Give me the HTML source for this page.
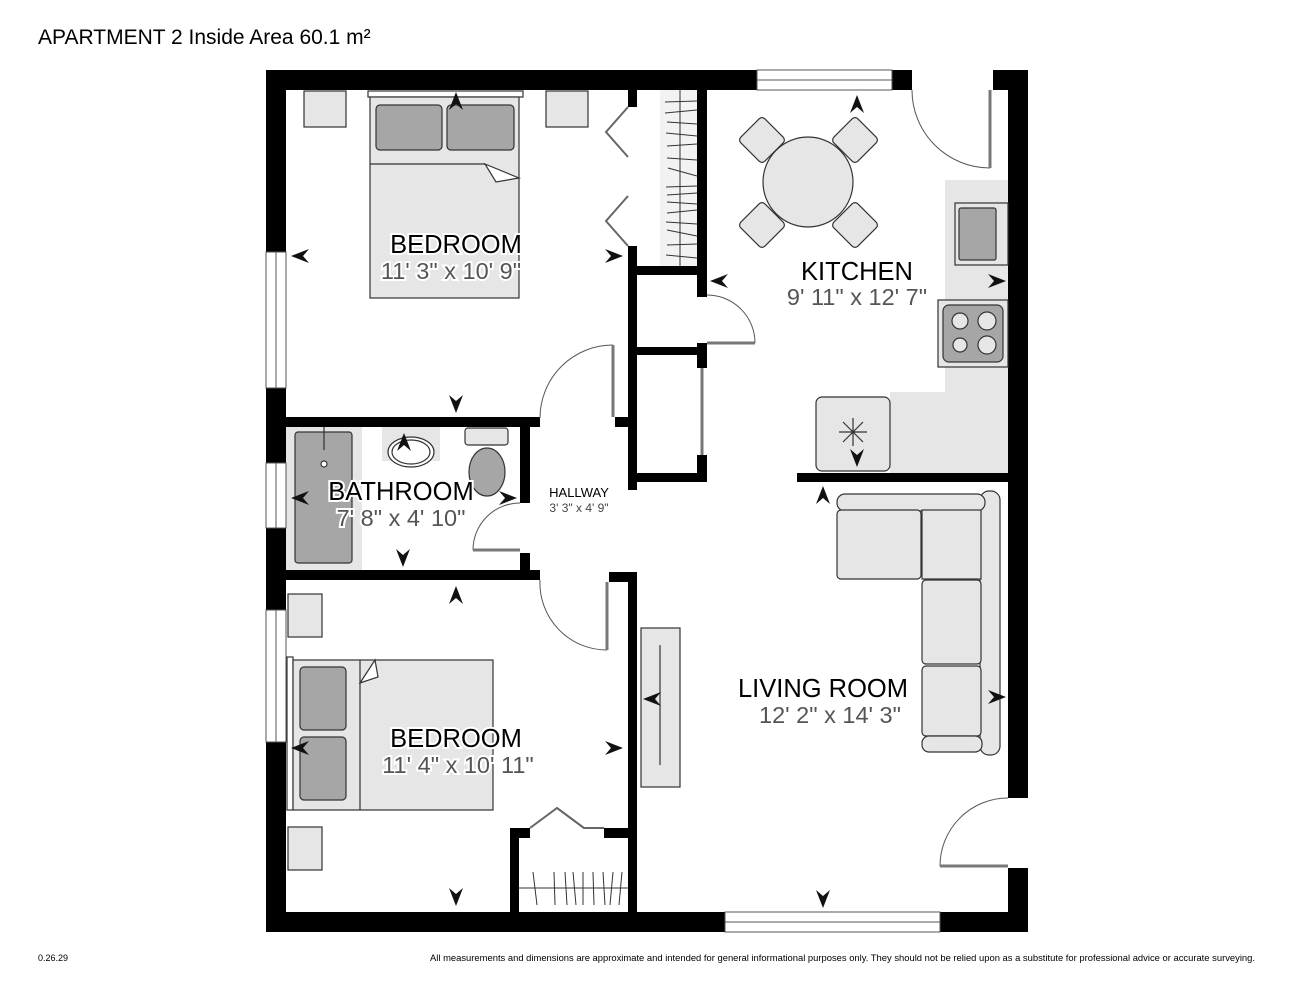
<!DOCTYPE html>
<html><head><meta charset="utf-8"><style>
html,body{margin:0;padding:0;background:#fff;}
svg{display:block;}
.t{font-family:"Liberation Sans",sans-serif;}
.nm{font-family:"Liberation Sans",sans-serif;font-size:25.5px;fill:#000;text-anchor:middle;paint-order:stroke;stroke:#fff;stroke-width:4px;}
.dm{font-family:"Liberation Sans",sans-serif;font-size:23.5px;fill:#555;text-anchor:middle;paint-order:stroke;stroke:#fff;stroke-width:4px;}
</style></head><body>
<svg width="1294" height="1000" viewBox="0 0 1294 1000" xmlns="http://www.w3.org/2000/svg">
<rect width="1294" height="1000" fill="#fff"/>
<text x="38" y="44" class="t" font-size="21">APARTMENT 2 Inside Area 60.1 m²</text>
<text x="38" y="961" class="t" font-size="9">0.26.29</text>
<text x="430" y="961" class="t" font-size="9" textLength="825" lengthAdjust="spacingAndGlyphs">All measurements and dimensions are approximate and intended for general informational purposes only. They should not be relied upon as a substitute for professional advice or accurate surveying.</text>

<path d="M945 180 H1008 V473 H890 V392 H945 Z" fill="#e6e6e6"/>
<rect x="286" y="427" width="76" height="143" fill="#e6e6e6"/>
<rect x="382" y="427" width="58" height="34" fill="#e6e6e6"/>
<rect x="660" y="90" width="37" height="176" fill="#f2f2f2"/>

<g fill="#000">
<rect x="266" y="70" width="491" height="20"/>
<rect x="892" y="70" width="20" height="20"/>
<rect x="993" y="70" width="35" height="20"/>
<rect x="266" y="70" width="20" height="182"/>
<rect x="266" y="388" width="20" height="75"/>
<rect x="266" y="528" width="20" height="82"/>
<rect x="266" y="742" width="20" height="190"/>
<rect x="1008" y="70" width="20" height="728"/>
<rect x="1008" y="868" width="20" height="64"/>
<rect x="266" y="912" width="459" height="20"/>
<rect x="940" y="912" width="88" height="20"/>
<rect x="628" y="90" width="9" height="17"/>
<rect x="628" y="246" width="9" height="244"/>
<rect x="697" y="90" width="10" height="207"/>
<rect x="697" y="343" width="10" height="25"/>
<rect x="697" y="455" width="10" height="27"/>
<rect x="632" y="266" width="75" height="9"/>
<rect x="632" y="347" width="75" height="8"/>
<rect x="632" y="473" width="75" height="9"/>
<rect x="797" y="473" width="211" height="9"/>
<rect x="286" y="417" width="254" height="10"/>
<rect x="615" y="417" width="22" height="10"/>
<rect x="520" y="427" width="10" height="76"/>
<rect x="520" y="553" width="10" height="25"/>
<rect x="286" y="570" width="254" height="10"/>
<rect x="609" y="572" width="28" height="10"/>
<rect x="628" y="572" width="9" height="340"/>
<rect x="510" y="828" width="20" height="10"/>
<rect x="604" y="828" width="30" height="10"/>
<rect x="510" y="828" width="9" height="84"/>
</g>

<g fill="#fff" stroke="#555" stroke-width="1">
<rect x="757" y="70" width="135" height="20"/><line x1="757" y1="80" x2="892" y2="80"/>
<rect x="725" y="912" width="215" height="20"/><line x1="725" y1="922" x2="940" y2="922"/>
<rect x="266" y="252" width="20" height="136"/><line x1="276" y1="252" x2="276" y2="388"/>
<rect x="266" y="463" width="20" height="65"/><line x1="276" y1="463" x2="276" y2="528"/>
<rect x="266" y="610" width="20" height="132"/><line x1="276" y1="610" x2="276" y2="742"/>
</g>

<g fill="none" stroke="#555" stroke-width="1">
<path d="M613 345 A73 73 0 0 0 540 418"/>
<path d="M707 295 A48 48 0 0 1 755 343"/>
<path d="M912 90 A78 78 0 0 0 990 168"/>
<path d="M520 503 A47 47 0 0 0 473 550"/>
<path d="M540 580 A67 67 0 0 0 607 650"/>
<path d="M1008 798 A68 68 0 0 0 940 866"/>
</g>
<g stroke="#777" stroke-width="3" fill="none">
<line x1="613" y1="345" x2="613" y2="417"/>
<line x1="707" y1="343" x2="755" y2="343"/>
<line x1="990" y1="90" x2="990" y2="168"/>
<line x1="473" y1="550" x2="520" y2="550"/>
<line x1="607" y1="582" x2="607" y2="650"/>
<line x1="940" y1="866" x2="1008" y2="866"/>
<line x1="702" y1="368" x2="702" y2="455"/>
</g>
<g stroke="#666" stroke-width="2" fill="none">
<polyline points="628,107 606,132 628,157"/>
<polyline points="628,196 606,221 628,246"/>
<polyline points="530,828 557,808 584,828"/>
<polyline points="557,808 584,828 604,828"/>
</g>
<g stroke="#333" stroke-width="1">
<line x1="680" y1="90" x2="680" y2="266"/>
<line x1="665" y1="102" x2="697" y2="101"/><line x1="665" y1="113" x2="697" y2="110"/>
<line x1="667" y1="122" x2="697" y2="124"/><line x1="666" y1="133" x2="697" y2="136"/>
<line x1="667" y1="146" x2="697" y2="144"/><line x1="667" y1="158" x2="697" y2="160"/>
<line x1="668" y1="168" x2="697" y2="176"/><line x1="666" y1="187" x2="697" y2="186"/>
<line x1="667" y1="195" x2="697" y2="193"/><line x1="667" y1="202" x2="697" y2="204"/>
<line x1="667" y1="213" x2="697" y2="210"/><line x1="666" y1="222" x2="697" y2="224"/>
<line x1="667" y1="230" x2="697" y2="236"/><line x1="667" y1="245" x2="697" y2="244"/>
<line x1="666" y1="255" x2="697" y2="258"/>
<line x1="519" y1="888" x2="628" y2="888"/>
<line x1="533" y1="872" x2="537" y2="905"/><line x1="554" y1="872" x2="555" y2="905"/>
<line x1="565" y1="872" x2="567" y2="905"/><line x1="573" y1="872" x2="576" y2="905"/>
<line x1="583" y1="872" x2="583" y2="905"/><line x1="593" y1="872" x2="594" y2="905"/>
<line x1="603" y1="872" x2="605" y2="905"/><line x1="613" y1="872" x2="610" y2="905"/>
<line x1="622" y1="872" x2="619" y2="905"/>
</g>

<g stroke="#333" stroke-width="1.2">
<rect x="304" y="91" width="42" height="36" fill="#e6e6e6"/>
<rect x="546" y="91" width="42" height="36" fill="#e6e6e6"/>
<rect x="368" y="91" width="155" height="6" fill="#fff"/>
<rect x="370" y="97" width="149" height="201" fill="#e6e6e6"/>
<rect x="376" y="105" width="66" height="45" rx="4" fill="#a6a6a6"/>
<rect x="447" y="105" width="67" height="45" rx="4" fill="#a6a6a6"/>
<line x1="370" y1="164" x2="485" y2="164"/>
<polygon points="485,164 519,178 496,182" fill="#fff"/>
</g>
<g stroke="#333" stroke-width="1.2">
<rect x="288" y="594" width="34" height="43" fill="#e6e6e6"/>
<rect x="288" y="827" width="34" height="43" fill="#e6e6e6"/>
<rect x="287" y="657" width="6" height="153" fill="#fff"/>
<rect x="293" y="660" width="200" height="150" fill="#e6e6e6"/>
<rect x="300" y="667" width="46" height="63" rx="4" fill="#a6a6a6"/>
<rect x="300" y="737" width="46" height="63" rx="4" fill="#a6a6a6"/>
<line x1="360" y1="660" x2="360" y2="810"/>
<polygon points="360,683 375,660 378,677" fill="#fff"/>
</g>
<g stroke="#333" stroke-width="1.2">
<rect x="295" y="432" width="57" height="131" rx="3" fill="#a6a6a6"/>
<line x1="324" y1="427" x2="324" y2="450"/>
<circle cx="324" cy="464" r="3" fill="#fff"/>
<ellipse cx="411" cy="452" rx="23" ry="15" fill="#fff"/>
<ellipse cx="411" cy="452" rx="19" ry="12" fill="none"/>
<rect x="465" y="428" width="43" height="17" rx="3" fill="#e6e6e6"/>
<ellipse cx="487" cy="472" rx="18" ry="24" fill="#a6a6a6"/>
</g>
<g stroke="#333" stroke-width="1.2">
<circle cx="808" cy="182" r="45" fill="#e6e6e6"/>
<g fill="#e6e6e6">
<rect x="-17" y="-17" width="34" height="34" rx="4" transform="translate(762,140) rotate(45)"/>
<rect x="-17" y="-17" width="34" height="34" rx="4" transform="translate(855,140) rotate(45)"/>
<rect x="-17" y="-17" width="34" height="34" rx="4" transform="translate(762,225) rotate(45)"/>
<rect x="-17" y="-17" width="34" height="34" rx="4" transform="translate(855,225) rotate(45)"/>
</g>
<rect x="955" y="203" width="53" height="62" fill="#e6e6e6"/>
<rect x="959" y="208" width="37" height="52" rx="2" fill="#a6a6a6"/>
<rect x="938" y="300" width="70" height="67" fill="#e6e6e6"/>
<rect x="943" y="305" width="60" height="57" rx="6" fill="#a6a6a6"/>
<circle cx="960" cy="321" r="8" fill="#e6e6e6"/><circle cx="987" cy="321" r="9" fill="#e6e6e6"/>
<circle cx="960" cy="345" r="7" fill="#e6e6e6"/><circle cx="987" cy="345" r="9" fill="#e6e6e6"/>
<rect x="816" y="397" width="74" height="74" rx="6" fill="#e6e6e6"/>
<path d="M853 418 V446 M839 432 H867 M843 422 L863 442 M863 422 L843 442" fill="none"/>
</g>
<g stroke="#333" stroke-width="1.2" fill="#e6e6e6">
<rect x="641" y="628" width="39" height="159"/>
<line x1="660" y1="645" x2="660" y2="765"/>
<rect x="980" y="491" width="20" height="264" rx="9"/>
<rect x="837" y="494" width="148" height="17" rx="8"/>
<rect x="837" y="510" width="84" height="69" rx="4"/>
<rect x="922" y="510" width="59" height="69"/>
<rect x="922" y="580" width="59" height="84" rx="4"/>
<rect x="922" y="666" width="59" height="70" rx="4"/>
<rect x="922" y="736" width="60" height="16" rx="7"/>
</g>

<g fill="#111">
<path d="M0 -9 L7 9 L0 3 L-7 9 Z" transform="translate(456,101)"/>
<path d="M0 -9 L7 9 L0 3 L-7 9 Z" transform="translate(456,404) rotate(180)"/>
<path d="M0 -9 L7 9 L0 3 L-7 9 Z" transform="translate(300,256) rotate(-90)"/>
<path d="M0 -9 L7 9 L0 3 L-7 9 Z" transform="translate(614,256) rotate(90)"/>
<path d="M0 -9 L7 9 L0 3 L-7 9 Z" transform="translate(857,104)"/>
<path d="M0 -9 L7 9 L0 3 L-7 9 Z" transform="translate(857,458) rotate(180)"/>
<path d="M0 -9 L7 9 L0 3 L-7 9 Z" transform="translate(719,281) rotate(-90)"/>
<path d="M0 -9 L7 9 L0 3 L-7 9 Z" transform="translate(997,281) rotate(90)"/>
<path d="M0 -9 L7 9 L0 3 L-7 9 Z" transform="translate(404,442)"/>
<path d="M0 -9 L7 9 L0 3 L-7 9 Z" transform="translate(403,558) rotate(180)"/>
<path d="M0 -9 L7 9 L0 3 L-7 9 Z" transform="translate(300,498) rotate(-90)"/>
<path d="M0 -9 L7 9 L0 3 L-7 9 Z" transform="translate(508,498) rotate(90)"/>
<path d="M0 -9 L7 9 L0 3 L-7 9 Z" transform="translate(456,595)"/>
<path d="M0 -9 L7 9 L0 3 L-7 9 Z" transform="translate(456,897) rotate(180)"/>
<path d="M0 -9 L7 9 L0 3 L-7 9 Z" transform="translate(300,748) rotate(-90)"/>
<path d="M0 -9 L7 9 L0 3 L-7 9 Z" transform="translate(614,748) rotate(90)"/>
<path d="M0 -9 L7 9 L0 3 L-7 9 Z" transform="translate(823,495)"/>
<path d="M0 -9 L7 9 L0 3 L-7 9 Z" transform="translate(823,899) rotate(180)"/>
<path d="M0 -9 L7 9 L0 3 L-7 9 Z" transform="translate(652,699) rotate(-90)"/>
<path d="M0 -9 L7 9 L0 3 L-7 9 Z" transform="translate(997,697) rotate(90)"/>
</g>

<text x="456" y="253" class="nm">BEDROOM</text>
<text x="451" y="279" class="dm">11' 3" x 10' 9"</text>
<text x="857" y="280" class="nm">KITCHEN</text>
<text x="857" y="305" class="dm">9' 11" x 12' 7"</text>
<text x="401" y="500" class="nm">BATHROOM</text>
<text x="401" y="526" class="dm">7' 8" x 4' 10"</text>
<text x="579" y="497" class="t" font-size="13" text-anchor="middle">HALLWAY</text>
<text x="579" y="512" class="t" font-size="12" text-anchor="middle" fill="#444">3' 3" x 4' 9"</text>
<text x="456" y="747" class="nm">BEDROOM</text>
<text x="458" y="773" class="dm">11' 4" x 10' 11"</text>
<text x="823" y="697" class="nm">LIVING ROOM</text>
<text x="830" y="723" class="dm">12' 2" x 14' 3"</text>
</svg>
</body></html>
